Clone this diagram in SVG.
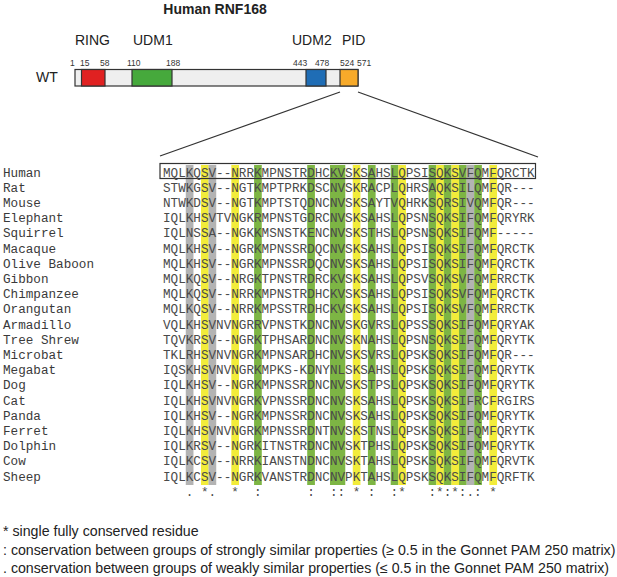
<svg xmlns="http://www.w3.org/2000/svg" width="617" height="577" viewBox="0 0 617 577">
<style>
.t{font-family:"Liberation Sans",Arial,sans-serif;fill:#222}
.num{font-family:"Liberation Sans",Arial,sans-serif;font-size:8.5px;fill:#333}
.dl{font-family:"Liberation Sans",Arial,sans-serif;font-size:14px;fill:#222}
.seq{font-family:"Liberation Mono","Courier New",monospace;font-size:12.65px;fill:#4a4a4a}
.nm{font-family:"Liberation Mono","Courier New",monospace;font-size:12.65px;fill:#3a3a3a}
.y{fill:#f2ec3a}.g{fill:#7db544}.k{fill:#b3b3b3}
.seg{stroke:#333;stroke-width:1.2}
.leg{font-family:"Liberation Sans",Arial,sans-serif;font-size:14.2px;fill:#222}
</style>
<rect width="617" height="577" fill="#fff"/>
<g id="title"><text class="t" x="215" y="13.5" font-size="14" font-weight="bold" text-anchor="middle">Human RNF168</text></g>
<g id="domain-map">
<text class="dl" x="75" y="45">RING</text>
<text class="dl" x="133" y="45">UDM1</text>
<text class="dl" x="292" y="45">UDM2</text>
<text class="dl" x="342" y="45">PID</text>
<text class="dl" x="36" y="82">WT</text>
<text class="num" x="70" y="66">1</text>
<text class="num" x="80" y="66">15</text>
<text class="num" x="100" y="66">58</text>
<text class="num" x="127" y="66">110</text>
<text class="num" x="166" y="66">188</text>
<text class="num" x="293" y="66">443</text>
<text class="num" x="315" y="66">478</text>
<text class="num" x="340" y="66">524</text>
<text class="num" x="357" y="66">571</text>
<rect class="seg" x="75" y="69.5" width="283" height="16.5" fill="#efefef"/>
<rect class="seg" x="81.5" y="69.5" width="23.5" height="16.5" fill="#e02121"/>
<rect class="seg" x="132" y="69.5" width="40" height="16.5" fill="#46a93c"/>
<rect class="seg" x="306" y="69.5" width="20" height="16.5" fill="#1f6db5"/>
<rect class="seg" x="340" y="69.5" width="18" height="16.5" fill="#f7aa2a"/>
</g>
<g id="connectors" stroke="#333" stroke-width="1.2" fill="none">
<line x1="340" y1="92" x2="160" y2="156"/>
<line x1="358" y1="92" x2="538" y2="157"/>
</g>
<g id="bands">
<rect class="k" x="185.77" y="165" width="7.7" height="320"/>
<rect class="y" x="200.95" y="165" width="7.7" height="320"/>
<rect class="k" x="208.54" y="165" width="7.7" height="320"/>
<rect class="y" x="231.31" y="165" width="7.7" height="320"/>
<rect class="g" x="254.08" y="165" width="7.7" height="320"/>
<rect class="g" x="307.21" y="165" width="7.7" height="320"/>
<rect class="g" x="329.98" y="165" width="15.3" height="320"/>
<rect class="y" x="352.75" y="165" width="7.7" height="320"/>
<rect class="g" x="367.93" y="165" width="7.7" height="320"/>
<rect class="g" x="390.70" y="165" width="7.7" height="320"/>
<rect class="y" x="398.29" y="165" width="7.7" height="320"/>
<rect class="g" x="428.65" y="165" width="7.7" height="320"/>
<rect class="y" x="436.24" y="165" width="7.7" height="320"/>
<rect class="g" x="443.83" y="165" width="7.7" height="320"/>
<rect class="y" x="451.42" y="165" width="7.7" height="320"/>
<rect class="g" x="459.01" y="165" width="7.7" height="320"/>
<rect class="k" x="466.60" y="165" width="7.7" height="320"/>
<rect class="g" x="474.19" y="165" width="7.7" height="320"/>
<rect class="y" x="489.37" y="165" width="7.7" height="320"/>
</g>
<g id="human-box"><rect x="160" y="163.5" width="375.5" height="15" fill="none" stroke="#333" stroke-width="1.2"/></g>
<g id="names">
<text class="nm" x="3" y="176.6">Human</text>
<text class="nm" x="3" y="191.8">Rat</text>
<text class="nm" x="3" y="207.0">Mouse</text>
<text class="nm" x="3" y="222.2">Elephant</text>
<text class="nm" x="3" y="237.4">Squirrel</text>
<text class="nm" x="3" y="252.6">Macaque</text>
<text class="nm" x="3" y="267.8">Olive Baboon</text>
<text class="nm" x="3" y="283.0">Gibbon</text>
<text class="nm" x="3" y="298.2">Chimpanzee</text>
<text class="nm" x="3" y="313.4">Orangutan</text>
<text class="nm" x="3" y="328.6">Armadillo</text>
<text class="nm" x="3" y="343.8">Tree Shrew</text>
<text class="nm" x="3" y="359.0">Microbat</text>
<text class="nm" x="3" y="374.2">Megabat</text>
<text class="nm" x="3" y="389.4">Dog</text>
<text class="nm" x="3" y="404.6">Cat</text>
<text class="nm" x="3" y="419.8">Panda</text>
<text class="nm" x="3" y="435.0">Ferret</text>
<text class="nm" x="3" y="450.2">Dolphin</text>
<text class="nm" x="3" y="465.4">Cow</text>
<text class="nm" x="3" y="480.6">Sheep</text>
</g>
<g id="sequences">
<text class="seq" x="163" y="176.6">MQLKQSV--NRRKMPNSTRDHCKVSKSAHSLQPSISQKSVFQMFQRCTK</text>
<text class="seq" x="163" y="191.8">STWKGSV--NGTKMPTPRKDSCNVSKRACPLQHRSAQKSILQMFQR---</text>
<text class="seq" x="163" y="207.0">NTWKDSV--NGTKMPTSTQDNCNVSKSAYTVQHRKSQRSIVQMFQR---</text>
<text class="seq" x="163" y="222.2">IQLKHSVTVNGKRMPNSTGDRCNVSKSAHSLQPSNSQKSIFQMFQRYRK</text>
<text class="seq" x="163" y="237.4">IQLNSSA--NGKKMSNSTKENCNVSKSTHSLQPSNSQKSIFQMF-----</text>
<text class="seq" x="163" y="252.6">MQLKHSV--NGRKMPNSSRDQCNVSKSAHSLQPSISQKSIFQMFQRCTK</text>
<text class="seq" x="163" y="267.8">MQLKHSV--NGRKMPNSSRDQCNVSKSAHSLQPSISQKSIFQMFQRCTK</text>
<text class="seq" x="163" y="283.0">MQLKQSV--NRGKTPNSTRDRCKVSKSAHSLQPSVSQKSVFQMFRRCTK</text>
<text class="seq" x="163" y="298.2">MQLKQSV--NRRKMPNSTRDHCKVSKSAHSLQPSISQKSVFQMFQRCTK</text>
<text class="seq" x="163" y="313.4">MQLKQSV--NRRKMPSSTRDHCKVSKSAHSLQPSISQKSVFQMFRRCTK</text>
<text class="seq" x="163" y="328.6">VQLKHSVNVNGRRVPNSTKDNCNVSKGVRSLQPSSSQKSIFQMFQRYAK</text>
<text class="seq" x="163" y="343.8">TQVKRSV--NGRKTPHSARDNCNVSKNAHSLQPSNSQKSIFQMFQRYTK</text>
<text class="seq" x="163" y="359.0">TKLRHSVNVNGRKMPNSARDHCNVSKSVRSLQPSKSQKSIFQMFQR---</text>
<text class="seq" x="163" y="374.2">IQSKHSVNVNGRKMPKS-KDNYNLSKSAHSLQPSKSQKSIFQMFQRYTK</text>
<text class="seq" x="163" y="389.4">IQLKHSV--NGRKMPNSSRDNCNVSKSTPSLQPSKSQKSIFQMFQRYTK</text>
<text class="seq" x="163" y="404.6">IQLKHSVNVNGRKVPNSSRDNCNVSKSAHSLQPSKSQKSIFRCFRGIRS</text>
<text class="seq" x="163" y="419.8">IQLKHSV--NGRKMPNSSRDNCNVSKSAHSLQPSKSQKSIFQMFQRYTK</text>
<text class="seq" x="163" y="435.0">IQLKHSVNVNGRKMPNSSRDNTNVSKSTNSLQPSKSQKSIFQMFQRYTK</text>
<text class="seq" x="163" y="450.2">IQLKRSV--NGRKITNSTRDNCNVSKTPHSLQPSKSQKSIFQMFQRYTK</text>
<text class="seq" x="163" y="465.4">IQLKCSV--NRRKIANSTNDNCNVSKTAHSLQPSKSQKSIFQMFQRVTK</text>
<text class="seq" x="163" y="480.6">IQLKCSV--NGRKVANSTRDNCNVPKTAHSLQPSKSQKSIFQMFQRFTK</text>
<text class="seq" x="163" y="495.5" xml:space="preserve">   . *.  *  :      :  :: * :  :*   :*:*:.: *</text>
</g>
<g id="legend">
<text class="leg" x="3" y="536">* single fully conserved residue</text>
<text class="leg" x="3" y="554.5">: conservation between groups of strongly similar properties (≥ 0.5 in the Gonnet PAM 250 matrix)</text>
<text class="leg" x="3" y="573">. conservation between groups of weakly similar properties (≤ 0.5 in the Gonnet PAM 250 matrix)</text>
</g>
</svg>
